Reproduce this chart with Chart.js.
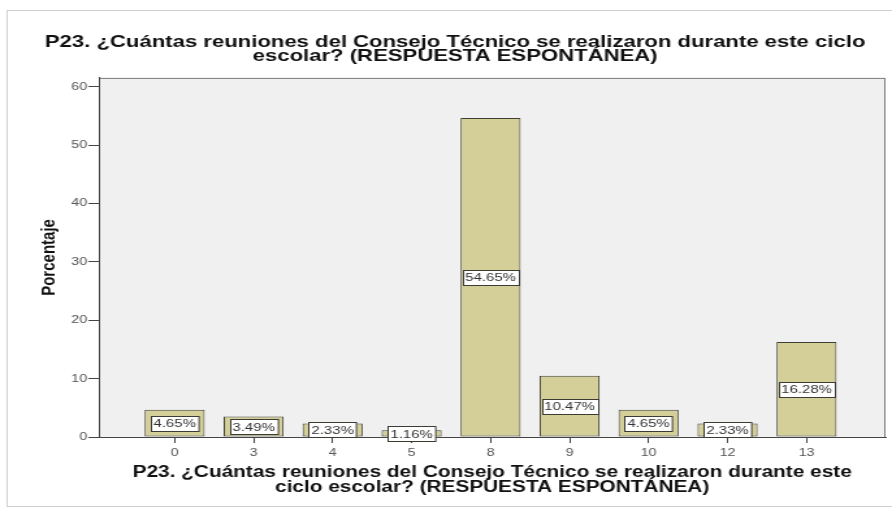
<!DOCTYPE html>
<html>
<head>
<meta charset="utf-8">
<script src="https://cdn.jsdelivr.net/npm/chart.js@4/dist/chart.umd.min.js"></script>
<style>
  html, body { margin: 0; padding: 0; background: #fff; }
  canvas { display: block; }
</style>
</head>
<body>
<!-- the reference picture is stretched sideways, so the chart is drawn narrow and widened by css -->
<canvas id="chart" width="686" height="512" style="width:892px;height:512px"></canvas>
<script>
// --- DATA ---
const categories = ['0', '3', '4', '5', '8', '9', '10', '12', '13'];
const percentages = [4.65, 3.49, 2.33, 1.16, 54.65, 10.47, 4.65, 2.33, 16.28];
const pointLabels = ['4.65%', '3.49%', '2.33%', '1.16%', '54.65%', '10.47%', '4.65%', '2.33%', '16.28%'];
const yTicks = [0, 10, 20, 30, 40, 50, 60];

const titleLines = ['P23. ¿Cuántas reuniones del Consejo Técnico se realizaron durante este ciclo',
    'escolar? (RESPUESTA ESPONTÁNEA)'];
const xTitleLines = ['P23. ¿Cuántas reuniones del Consejo Técnico se realizaron durante este',
    'ciclo escolar? (RESPUESTA ESPONTÁNEA)'];
const yTitle = 'Porcentaje';

const FONT = "'Liberation Sans', Arial, sans-serif";

// background, outer frame and plot box
const backdrop = {
    id: 'backdrop',
    beforeDraw(chart) {
        const { ctx, chartArea: a } = chart;
        ctx.save();
        ctx.fillStyle = '#ffffff';
        ctx.fillRect(0, 0, chart.width, chart.height);
        ctx.strokeStyle = '#cfcfcf';
        ctx.lineWidth = 1;
        ctx.strokeRect(5.5, 10.5, chart.width + 10, chart.height - 16);
        ctx.fillStyle = '#f0f0f0';
        ctx.fillRect(a.left, a.top, a.right - a.left, a.bottom - a.top);
        ctx.strokeStyle = '#7a7a7a';
        ctx.strokeRect(a.left + 0.5, a.top + 0.5, a.right - a.left - 1, a.bottom - a.top);
        ctx.restore();
    }
};

// white value boxes in the middle of each bar
const valueBoxes = {
    id: 'valueBoxes',
    afterDatasetsDraw(chart) {
        const { ctx } = chart;
        const meta = chart.getDatasetMeta(0);
        ctx.save();
        ctx.font = `11.5px ${FONT}`;
        ctx.textAlign = 'center';
        ctx.textBaseline = 'middle';
        meta.data.forEach((bar, i) => {
            const text = pointLabels[i];
            const mid = (bar.y + bar.base) / 2;
            const w = ctx.measureText(text).width + 4;
            const h = 15;
            const x0 = Math.round(bar.x - w / 2) + 0.5;
            const y0 = Math.round(mid - h / 2) + 0.5;
            ctx.fillStyle = '#ffffff';
            ctx.fillRect(x0, y0, w, h);
            ctx.strokeStyle = '#3c3c34';
            ctx.lineWidth = 1;
            ctx.strokeRect(x0, y0, w, h);
            ctx.fillStyle = '#333333';
            ctx.fillText(text, bar.x, mid + 1);
        });
        ctx.restore();
    }
};

new Chart(document.getElementById('chart'), {
    type: 'bar',
    data: {
        datasets: [{
            data: percentages.map((v, i) => ({ x: i, y: v })),
            backgroundColor: '#d4cf98',
            borderColor: '#3f3f35',
            borderWidth: 1,
            borderSkipped: false,
            barPercentage: 0.76,
            categoryPercentage: 1
        }]
    },
    plugins: [backdrop, valueBoxes],
    options: {
        responsive: false,
        animation: false,
        devicePixelRatio: 1,
        layout: { padding: { left: 19, top: 10, right: 5, bottom: 0 } },
        plugins: {
            legend: { display: false },
            tooltip: { enabled: false },
            title: {
                display: true,
                text: titleLines,
                color: '#111111',
                font: { family: FONT, size: 17, weight: 'bold', lineHeight: 0.85 },
                padding: { top: 25, bottom: 14 }
            }
        },
        scales: {
            x: {
                type: 'linear',
                offset: false,
                min: -0.96,
                max: 9.0,
                afterBuildTicks: (scale) => {
                    scale.ticks = categories.map((c, i) => ({ value: i }));
                },
                afterFit: (scale) => { scale.height = 75; },
                ticks: {
                    autoSkip: false,
                    maxRotation: 0,
                    padding: 3,
                    color: '#555555',
                    font: { family: FONT, size: 11 },
                    callback: (v) => categories[v]
                },
                grid: { display: true, offset: false, drawOnChartArea: false, drawTicks: true, tickLength: 6, color: '#444444' },
                border: { display: true, color: '#444444' },
                title: {
                    display: true,
                    text: xTitleLines,
                    color: '#111111',
                    font: { family: FONT, size: 16, weight: 'bold', lineHeight: 0.95 },
                    padding: { top: 0, bottom: 17 }
                }
            },
            y: {
                min: 0,
                max: 61.5,
                afterBuildTicks: (scale) => {
                    scale.ticks = yTicks.map(v => ({ value: v }));
                },
                afterFit: (scale) => { scale.width = 57; },
                ticks: {
                    padding: 1,
                    color: '#555555',
                    font: { family: FONT, size: 11 }
                },
                grid: { display: true, drawOnChartArea: false, drawTicks: true, tickLength: 8, color: '#444444' },
                border: { display: true, color: '#444444' },
                title: {
                    display: true,
                    text: yTitle,
                    color: '#111111',
                    font: { family: FONT, size: 15, weight: 'bold', lineHeight: 1.1 },
                    padding: { top: 11 }
                }
            }
        }
    }
});
</script>
</body>
</html>
